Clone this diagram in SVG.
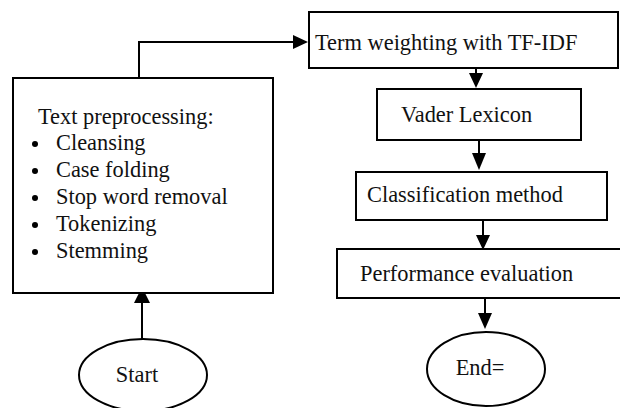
<svg xmlns="http://www.w3.org/2000/svg" width="620" height="408" viewBox="0 0 620 408">
<style>
.box{fill:#fff;stroke:#000;stroke-width:2}
.t{font-family:"Liberation Serif","Times New Roman",serif;font-size:22.4px;fill:#111}
.c{fill:none;stroke:#000;stroke-width:2}
.h{fill:#000}
</style>
<rect width="620" height="408" fill="#fff"/>
<g id="connectors">
<polyline class="c" points="139,78 139,42 293,42"/>
<polygon class="h" points="293,35 308,42 293,49"/>
<line class="c" x1="476" y1="68" x2="476" y2="74"/>
<polygon class="h" points="469,73 483,73 476,88"/>
<line class="c" x1="479" y1="140" x2="479" y2="154"/>
<polygon class="h" points="472,153 486,153 479,170"/>
<line class="c" x1="483" y1="220" x2="483" y2="236"/>
<polygon class="h" points="476,235 490,235 483,250"/>
<line class="c" x1="485" y1="298" x2="485" y2="314"/>
<polygon class="h" points="478,313 492,313 485,329"/>
<line class="c" x1="142" y1="339" x2="142" y2="302"/>
<polygon class="h" points="134,303 150,303 142,287"/>
</g>
<g id="term">
<rect class="box" x="309" y="12" width="309" height="56"/>
<text class="t" x="315" y="50">Term weighting with TF-IDF</text>
</g>
<g id="preprocessing">
<rect class="box" x="13" y="78" width="260" height="215"/>
<text class="t" x="38" y="124">Text preprocessing:</text>
<g>
<circle cx="35" cy="144" r="3"/>
<circle cx="35" cy="171" r="3"/>
<circle cx="35" cy="198" r="3"/>
<circle cx="35" cy="225" r="3"/>
<circle cx="35" cy="252" r="3"/>
</g>
<text class="t" x="56" y="150">Cleansing</text>
<text class="t" x="56" y="177">Case folding</text>
<text class="t" x="56" y="204">Stop word removal</text>
<text class="t" x="56" y="231">Tokenizing</text>
<text class="t" x="56" y="258">Stemming</text>
</g>
<g id="vader">
<rect class="box" x="377" y="89" width="204" height="51"/>
<text class="t" x="401" y="122">Vader Lexicon</text>
</g>
<g id="classification">
<rect class="box" x="356" y="172" width="251" height="48"/>
<text class="t" x="367" y="202">Classification method</text>
</g>
<g id="performance">
<rect class="box" x="337" y="249" width="286" height="49"/>
<text class="t" x="360" y="281">Performance evaluation</text>
</g>
<g id="start">
<ellipse class="box" cx="143" cy="375" rx="64" ry="36"/>
<text class="t" x="137" y="382" text-anchor="middle">Start</text>
</g>
<g id="end">
<ellipse class="box" cx="486" cy="369" rx="59" ry="37"/>
<text class="t" x="480" y="375" text-anchor="middle">End=</text>
</g>
</svg>
